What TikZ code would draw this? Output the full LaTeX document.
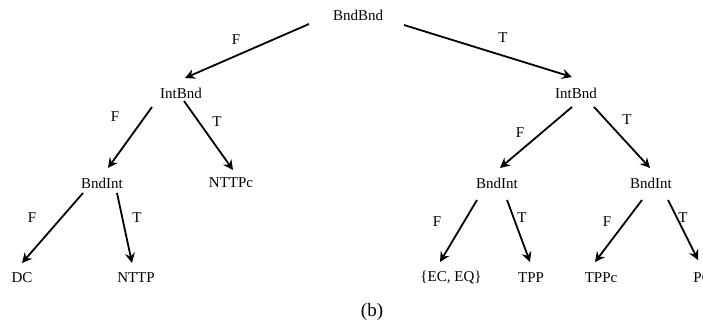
\documentclass[tikz,border=0pt]{standalone}
\usepackage{fontspec}
\setmainfont{Liberation Serif}
\usetikzlibrary{arrows.meta}
\begin{document}
\begin{tikzpicture}[x=1pt,y=-1pt,
  lbl/.style={font=\fontsize{15}{16}\selectfont, inner sep=0pt, anchor=center},
  br/.style={font=\fontsize{15}{16}\selectfont, inner sep=0pt, anchor=center},
  arr/.style={line width=1.8pt, -{Stealth[length=10pt,width=10pt,inset=3.5pt]}}]
\useasboundingbox (0,0) rectangle (703,320);
\clip (0,0) rectangle (703,320);
% nodes
\node[lbl] (R) at (358,15) {BndBnd};
\node[lbl] (L1) at (181,93) {IntBnd};
\node[lbl] (R1) at (576,93) {IntBnd};
\node[lbl] (LL) at (102,183) {BndInt};
\node[lbl] (LR) at (231,183) {NTTPc};
\node[lbl] (RL) at (497,183) {BndInt};
\node[lbl] (RR) at (651,183) {BndInt};
\node[lbl] (DC) at (22,278) {DC};
\node[lbl] (NTTP) at (136,278) {NTTP};
\node[lbl] (EC) at (451,278) {\{EC, EQ\}};
\node[lbl] (TPP) at (531,278) {TPP};
\node[lbl] (TPPc) at (601,278) {TPPc};
\node[lbl] (PO) at (703,278) {PO};
% connectors
\draw[arr] ([shift={(-49,9)}]R.center) -- ([shift={(4,-15)}]L1.center);
\draw[arr] ([shift={(46,10)}]R.center) -- ([shift={(-4,-16)}]R1.center);
\draw[arr] ([shift={(-29,14)}]L1.center) -- ([shift={(6,-15)}]LL.center);
\draw[arr] ([shift={(3,8)}]L1.center) -- ([shift={(2,-13)}]LR.center);
\draw[arr] ([shift={(-19,10)}]LL.center) -- ([shift={(0,-15)}]DC.center);
\draw[arr] ([shift={(15,10)}]LL.center) -- ([shift={(-4,-15)}]NTTP.center);
\draw[arr] ([shift={(-4,14)}]R1.center) -- ([shift={(3,-15)}]RL.center);
\draw[arr] ([shift={(18,14)}]R1.center) -- ([shift={(-1,-15)}]RR.center);
\draw[arr] ([shift={(-20,17)}]RL.center) -- ([shift={(-11,-16)}]EC.center);
\draw[arr] ([shift={(10,17)}]RL.center) -- ([shift={(-1,-16)}]TPP.center);
\draw[arr] ([shift={(-9,17)}]RR.center) -- ([shift={(-6,-16)}]TPPc.center);
\draw[arr] ([shift={(17,17)}]RR.center) -- ([shift={(-5,-18)}]PO.center);
% branch labels
\node[br] (f1) at (236,40) {F};
\node[br] (t1) at (503,38) {T};
\node[br] (f2) at (115,117) {F};
\node[br] (t2) at (217,122) {T};
\node[br] (f3) at (32,218) {F};
\node[br] (t3) at (137,218) {T};
\node[br] (f4) at (520,133) {F};
\node[br] (t4) at (627,120) {T};
\node[br] (f5) at (437,222) {F};
\node[br] (t5) at (522,218) {T};
\node[br] (f6) at (607,222) {F};
\node[br] (t6) at (683,218) {T};
\node[inner sep=0pt, font=\fontsize{19}{22}\selectfont] (cap) at (372,312) {(b)};
\end{tikzpicture}
\end{document}
